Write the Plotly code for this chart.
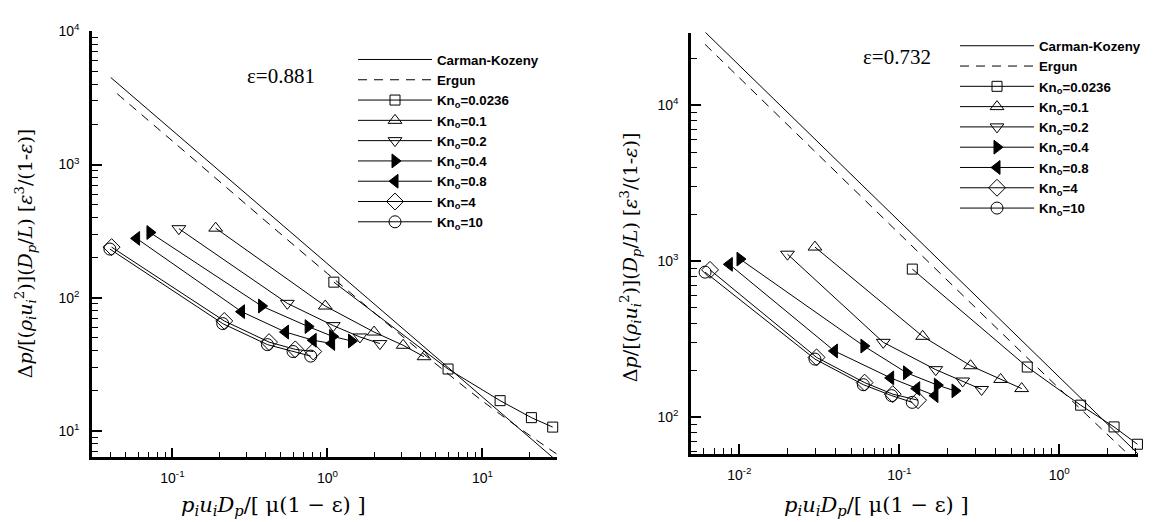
import plotly.graph_objects as go

# ---------------- data ----------------
# Left panel: porosity 0.881
L_ck_x = [0.04, 30.0]
L_ck_y = [4500, 6.0]
L_er_x = [0.044, 0.1, 1.0, 10.0, 30.0]
L_er_y = [3400, 1500, 152, 16.8, 6.75]

L_kn0236_x = [1.10, 6.0, 13.0, 20.7, 28.4]
L_kn0236_y = [131, 29.2, 16.9, 12.6, 10.7]
L_kn01_x = [0.190, 0.968, 2.0, 3.08, 4.2]
L_kn01_y = [333, 86.7, 55.3, 44.0, 36.1]
L_kn02_x = [0.110, 0.551, 1.09, 1.62, 2.18]
L_kn02_y = [330, 90.8, 61.8, 50.8, 45.3]
L_kn04_x = [0.0716, 0.376, 0.751, 1.08, 1.43]
L_kn04_y = [309, 86.7, 60.8, 51.3, 47.4]
L_kn08_x = [0.0587, 0.279, 0.536, 0.809, 1.064]
L_kn08_y = [279, 78.7, 55.3, 48.0, 45.4]
L_kn4_x = [0.0405, 0.216, 0.42, 0.62, 0.81]
L_kn4_y = [240, 67, 46.5, 41, 39.5]
L_kn10_x = [0.0395, 0.211, 0.41, 0.60, 0.78]
L_kn10_y = [232, 64, 44.5, 39.5, 36.5]

# Right panel: porosity 0.732
R_ck_x = [0.0061, 3.12]
R_ck_y = [29500, 57.7]
R_er_x = [0.0061, 0.01, 0.1, 1.0, 3.12]
R_er_y = [24600, 15000, 1500, 152, 50]

R_kn0236_x = [0.1206, 0.631, 1.36, 2.20, 3.08]
R_kn0236_y = [888, 209, 119, 86.3, 66.8]
R_kn01_x = [0.0297, 0.140, 0.279, 0.430, 0.582]
R_kn01_y = [1230, 329, 213, 174, 152]
R_kn02_x = [0.0200, 0.0794, 0.169, 0.249, 0.327]
R_kn02_y = [1107, 301, 201, 170, 150]
R_kn04_x = [0.0101, 0.0601, 0.111, 0.173, 0.223]
R_kn04_y = [1030, 285, 192, 160, 147]
R_kn08_x = [0.00866, 0.0393, 0.0883, 0.1285, 0.167]
R_kn08_y = [953, 265, 178, 152, 137]
R_kn4_x = [0.00656, 0.0304, 0.0607, 0.091, 0.131]
R_kn4_y = [878, 241, 166, 140, 128]
R_kn10_x = [0.00611, 0.0297, 0.0596, 0.0896, 0.1205]
R_kn10_y = [849, 235, 161, 137, 124]

series_names = ["Kn<sub>o</sub>=0.0236", "Kn<sub>o</sub>=0.1", "Kn<sub>o</sub>=0.2",
                "Kn<sub>o</sub>=0.4", "Kn<sub>o</sub>=0.8", "Kn<sub>o</sub>=4",
                "Kn<sub>o</sub>=10"]
line_names = ["Carman-Kozeny", "Ergun"]

L_xtick_vals = [0.1, 1, 10]
L_xtick_text = ["10<sup>-1</sup>", "10<sup>0</sup>", "10<sup>1</sup>"]
L_ytick_vals = [10, 100, 1000, 10000]
L_ytick_text = ["10<sup>1</sup>", "10<sup>2</sup>", "10<sup>3</sup>", "10<sup>4</sup>"]
R_xtick_vals = [0.01, 0.1, 1]
R_xtick_text = ["10<sup>-2</sup>", "10<sup>-1</sup>", "10<sup>0</sup>"]
R_ytick_vals = [100, 1000, 10000]
R_ytick_text = ["10<sup>2</sup>", "10<sup>3</sup>", "10<sup>4</sup>"]

# ---------------- figure ----------------
symbols = ["square-open", "triangle-up-open", "triangle-down-open",
           "triangle-right", "triangle-left", "diamond-open", "circle-open"]
sizes = [10, 12, 12, 12, 12, 13, 12]

fig = go.Figure()

def add_panel(xa, ya, leg, ck, er, series):
    fig.add_trace(go.Scatter(x=ck[0], y=ck[1], mode="lines", name=line_names[0],
                             line=dict(color="black", width=1), xaxis=xa, yaxis=ya,
                             legend=leg))
    fig.add_trace(go.Scatter(x=er[0], y=er[1], mode="lines", name=line_names[1],
                             line=dict(color="black", width=1, dash="9px,7px"),
                             line_shape="spline", xaxis=xa, yaxis=ya, legend=leg))
    for i, (sx, sy) in enumerate(series):
        fig.add_trace(go.Scatter(
            x=sx, y=sy, mode="lines+markers", name=series_names[i],
            line=dict(color="black", width=1),
            marker=dict(symbol=symbols[i], size=sizes[i], color="black",
                        line=dict(color="black", width=1)),
            xaxis=xa, yaxis=ya, legend=leg, cliponaxis=False if i == 0 else True))

add_panel("x", "y", "legend", (L_ck_x, L_ck_y), (L_er_x, L_er_y),
          [(L_kn0236_x, L_kn0236_y), (L_kn01_x, L_kn01_y), (L_kn02_x, L_kn02_y),
           (L_kn04_x, L_kn04_y), (L_kn08_x, L_kn08_y), (L_kn4_x, L_kn4_y),
           (L_kn10_x, L_kn10_y)])
add_panel("x2", "y2", "legend2", (R_ck_x, R_ck_y), (R_er_x, R_er_y),
          [(R_kn0236_x, R_kn0236_y), (R_kn01_x, R_kn01_y), (R_kn02_x, R_kn02_y),
           (R_kn04_x, R_kn04_y), (R_kn08_x, R_kn08_y), (R_kn4_x, R_kn4_y),
           (R_kn10_x, R_kn10_y)])

W, H = 1161, 522

def minor_vals(lo, hi):
    out = []
    for e in range(lo, hi + 1):
        for m in range(2, 10):
            out.append(m * 10 ** e)
    return out

tickfont = dict(family="Liberation Sans, Arial", size=14, color="black")

def axis_common(rng, tv, tt, dom, minors, anchor, is_x):
    return dict(type="log", range=rng, domain=dom, anchor=anchor,
                showline=True, linecolor="black", linewidth=2.5, mirror=False,
                showgrid=False, zeroline=False,
                tickmode="array", tickvals=tv, ticktext=tt,
                ticks="inside", ticklen=10, tickwidth=2, tickcolor="black",
                tickfont=tickfont, ticklabelstandoff=7 if not is_x else 6,
                minor=dict(tickmode="array", tickvals=minors, ticks="inside",
                           ticklen=6, tickwidth=1, tickcolor="black", showgrid=False))

legfont = dict(family="Liberation Sans, Arial", size=13.3, color="black", weight="bold")

fig.update_layout(
    width=W, height=H, autosize=False,
    margin=dict(l=0, r=0, t=0, b=0),
    paper_bgcolor="white", plot_bgcolor="white",
    xaxis=axis_common([-1.519, 1.481], L_xtick_vals, L_xtick_text,
                      [92 / W, 557 / W], minor_vals(-2, 1), "y", True),
    yaxis=axis_common([0.803, 4.0], L_ytick_vals, L_ytick_text,
                      [1 - 456 / H, 1 - 21.7 / H], minor_vals(0, 3), "x", False),
    xaxis2=axis_common([-2.302, 0.494], R_xtick_vals, R_xtick_text,
                       [691 / W, 1138.3 / W], minor_vals(-3, 0), "y2", True),
    yaxis2=axis_common([1.762, 4.466], R_ytick_vals, R_ytick_text,
                       [1 - 452.7 / H, 1 - 23 / H], minor_vals(1, 4), "x2", False),
    showlegend=True,
    legend=dict(x=353 / W, y=1 - 35 / H, xanchor="left", yanchor="top",
                bgcolor="rgba(0,0,0,0)", borderwidth=0, itemwidth=74,
                font=legfont, tracegroupgap=0),
    legend2=dict(x=955 / W, y=1 - 21 / H, xanchor="left", yanchor="top",
                 bgcolor="rgba(0,0,0,0)", borderwidth=0, itemwidth=74,
                 font=legfont, tracegroupgap=0),
)

ytitle = ("Δ<i>p</i>/[(<i>ρ<sub>i</sub>u<sub>i</sub></i><sup>2</sup>)](<i>D<sub>p</sub></i>/<i>L</i>)"
          " [<i>ε</i><sup>3</sup>/(1-<i>ε</i>)]")
xtitle = "<i>p<sub>i</sub>u<sub>i</sub>D<sub>p</sub></i>/[ μ(1 − ε) ]"
titlefont = dict(family="DejaVu Serif", size=19, color="black")
xtitlefont = dict(family="DejaVu Serif", size=21, color="black")

fig.add_annotation(x=25 / W, y=1 - 248 / H, xref="paper", yref="paper", text=ytitle,
                   textangle=-90, showarrow=False, font=titlefont,
                   xanchor="center", yanchor="middle")
fig.add_annotation(x=630 / W, y=1 - 252 / H, xref="paper", yref="paper", text=ytitle,
                   textangle=-90, showarrow=False, font=titlefont,
                   xanchor="center", yanchor="middle")
fig.add_annotation(x=273 / W, y=1 - 506 / H, xref="paper", yref="paper", text=xtitle,
                   showarrow=False, font=xtitlefont, xanchor="center", yanchor="middle")
fig.add_annotation(x=876 / W, y=1 - 506 / H, xref="paper", yref="paper", text=xtitle,
                   showarrow=False, font=xtitlefont, xanchor="center", yanchor="middle")

epsfont = dict(family="Liberation Serif, Times New Roman", size=21, color="black")
fig.add_annotation(x=281 / W, y=1 - 67 / H, xref="paper", yref="paper", text="ε=0.881",
                   showarrow=False, font=epsfont, xanchor="center", yanchor="middle")
fig.add_annotation(x=897 / W, y=1 - 48 / H, xref="paper", yref="paper", text="ε=0.732",
                   showarrow=False, font=epsfont, xanchor="center", yanchor="middle")

fig.write_html("out.html")
